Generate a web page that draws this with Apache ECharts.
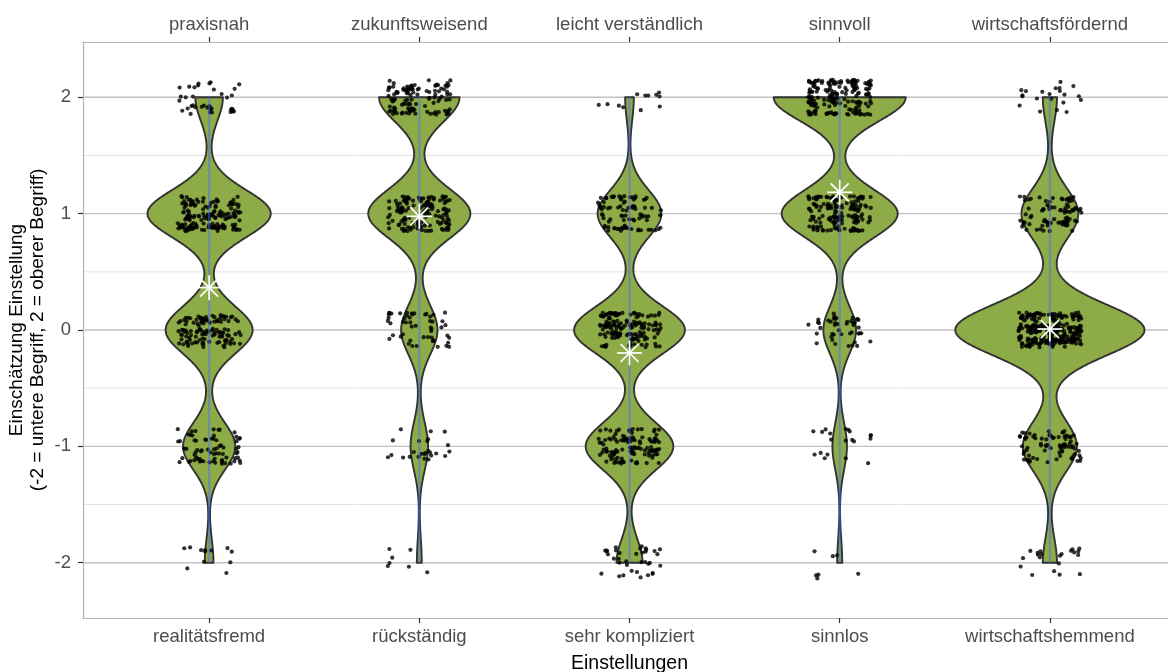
<!DOCTYPE html>
<html>
<head>
<meta charset="utf-8">
<script src="https://cdn.jsdelivr.net/npm/echarts@6/dist/echarts.min.js"></script>
<style>
  html, body { margin: 0; padding: 0; background: #ffffff; }
  #chart { width: 1168px; height: 672px; }
</style>
</head>
<body>
<div id="chart"></div>
<script>
// Answer scale: -2 = lower term, 2 = upper term
const levels = [-2, -1, 0, 1, 2];

// Lower term (bottom axis) and upper term (top axis) of each attitude pair
const lowerTerms = ['realitätsfremd', 'rückständig', 'sehr kompliziert', 'sinnlos', 'wirtschaftshemmend'];
const upperTerms = ['praxisnah', 'zukunftsweisend', 'leicht verständlich', 'sinnvoll', 'wirtschaftsfördernd'];

// Number of respondents per answer level (-2, -1, 0, 1, 2)
const countsPraxisnah      = [12, 72, 120, 170, 38];
const countsZukunft        = [7, 25, 52, 146, 115];
const countsVerstaendlich  = [36, 121, 153, 88, 12];
const countsSinnvoll       = [7, 20, 45, 160, 182];
const countsWirtschaft     = [21, 80, 280, 84, 21];

// Axis breaks
const yMajorTicks = [-2, -1, 0, 1, 2];
const yMinorTicks = [-1.5, -0.5, 0.5, 1.5];
const xTicks = [0, 1, 2, 3, 4];

const groups = [countsPraxisnah, countsZukunft, countsVerstaendlich, countsSinnvoll, countsWirtschaft];

// ---- statistics -------------------------------------------------------
function expand(counts) {
  const xs = [];
  counts.forEach((c, k) => { for (let j = 0; j < c; j++) xs.push(levels[k]); });
  return xs; // already sorted
}
function quantile7(sorted, p) {
  const h = (sorted.length - 1) * p;
  const lo = Math.floor(h);
  const hi = Math.min(lo + 1, sorted.length - 1);
  return sorted[lo] + (h - lo) * (sorted[hi] - sorted[lo]);
}
function bwNrd0(xs) {
  const n = xs.length;
  const m = xs.reduce((a, b) => a + b, 0) / n;
  const sd = Math.sqrt(xs.reduce((a, b) => a + (b - m) * (b - m), 0) / (n - 1));
  let lo = Math.min(sd, (quantile7(xs, 0.75) - quantile7(xs, 0.25)) / 1.34);
  if (!lo) lo = sd || Math.abs(xs[0]) || 1;
  return 0.9 * lo * Math.pow(n, -0.2);
}
function mean(xs) { return xs.reduce((a, b) => a + b, 0) / xs.length; }

// count-scaled kernel density over the data range (trimmed violin)
const NGRID = 512;
const profiles = groups.map(counts => {
  const xs = expand(counts);
  const bw = bwNrd0(xs);
  const lo = xs[0], hi = xs[xs.length - 1];
  const pts = [];
  for (let g = 0; g < NGRID; g++) {
    const y = lo + (hi - lo) * g / (NGRID - 1);
    let d = 0;
    counts.forEach((c, k) => {
      const z = (y - levels[k]) / bw;
      d += c * Math.exp(-0.5 * z * z) / (bw * Math.sqrt(2 * Math.PI));
    });
    pts.push([y, d]);
  }
  return { pts, lo, hi, mean: mean(xs) };
});
const densMax = Math.max(...profiles.map(p => Math.max(...p.pts.map(q => q[1]))));
const VIOLIN_HALF = 0.45;

// jittered respondents (uniform jitter of +-0.15 in both directions)
function hash01(a) {
  a = (a ^ 61) ^ (a >>> 16); a = a + (a << 3); a = a ^ (a >>> 4);
  a = Math.imul(a, 0x27d4eb2d); a = a ^ (a >>> 15);
  return (a >>> 0) / 4294967296;
}
const JIT = 0.15;
const points = [];
groups.forEach((counts, i) => {
  counts.forEach((c, k) => {
    for (let j = 0; j < c; j++) {
      const id = i * 100000 + k * 10000 + j;
      const dx = (hash01(id * 2 + 1) * 2 - 1) * JIT;
      const dy = (hash01(id * 2 + 7919) * 2 - 1) * JIT;
      points.push([i + dx, levels[k] + dy]);
    }
  });
});

const gridData = yMajorTicks.map(v => [0, v, 1]).concat(yMinorTicks.map(v => [0, v, 0]));

const TEXT = '#4d4d4d';
const FONT = '"Liberation Sans", Arial, Helvetica, sans-serif';

const chart = echarts.init(document.getElementById('chart'), null, { renderer: 'canvas' });

const xAxisBase = {
  type: 'value', min: -0.6, max: 4.6,
  axisLine: { show: true, onZero: false, lineStyle: { color: '#b3b3b3', width: 1.2 } },
  axisTick: { show: true, customValues: xTicks, length: 5, lineStyle: { color: '#333333', width: 1.2 } },
  splitLine: { show: false }
};

chart.setOption({
  animation: false,
  backgroundColor: '#ffffff',
  textStyle: { fontFamily: FONT },
  grid: { left: 83, top: 42, width: 1093, height: 576, containLabel: false, outerBoundsMode: 'none' },
  xAxis: [
    Object.assign({}, xAxisBase, {
      position: 'bottom',
      axisLabel: { customValues: xTicks, formatter: v => lowerTerms[Math.round(v)], color: TEXT, fontSize: 18.5, margin: 9, fontFamily: FONT },
      name: 'Einstellungen', nameLocation: 'middle', nameGap: 36, nameMoveOverlap: false,
      nameTextStyle: { color: '#000000', fontSize: 19.5, fontFamily: FONT }
    }),
    Object.assign({}, xAxisBase, {
      position: 'top',
      axisLabel: { customValues: xTicks, formatter: v => upperTerms[Math.round(v)], color: TEXT, fontSize: 18.5, margin: 8, fontFamily: FONT }
    })
  ],
  yAxis: {
    type: 'value', min: -2.475, max: 2.475,
    axisLine: { show: true, onZero: false, lineStyle: { color: '#b3b3b3', width: 1.2 } },
    axisTick: { show: true, customValues: yMajorTicks, length: 5, lineStyle: { color: '#333333', width: 1.2 } },
    axisLabel: { customValues: yMajorTicks, color: TEXT, fontSize: 18.5, margin: 12, fontFamily: FONT },
    splitLine: { show: false },
    name: 'Einschätzung Einstellung\n(-2 = untere Begriff, 2 = oberer Begriff)',
    nameLocation: 'middle', nameRotate: 90, nameGap: 35, nameMoveOverlap: false,
    nameTextStyle: { color: '#000000', fontSize: 19, lineHeight: 21, fontFamily: FONT }
  },
  series: [
    {
      // horizontal grid lines
      type: 'custom', z: 0, silent: true,
      data: gridData,
      encode: { x: 0, y: 1 },
      renderItem: (params, api) => {
        const cs = params.coordSys;
        const y = api.coord([0, api.value(1)])[1];
        const major = api.value(2) === 1;
        return {
          type: 'line',
          shape: { x1: cs.x, y1: y, x2: cs.x + cs.width, y2: y },
          style: { stroke: major ? '#c2c2c2' : '#e4e4e4', lineWidth: major ? 1.3 : 1 }
        };
      }
    },
    {
      // violins
      type: 'custom', z: 1, silent: true,
      data: profiles.map((p, i) => [i, 0]),
      encode: { x: 0, y: 1 },
      renderItem: (params, api) => {
        const i = api.value(0);
        const prof = profiles[i].pts;
        const pts = [];
        prof.forEach(([y, d]) => pts.push(api.coord([i + VIOLIN_HALF * d / densMax, y])));
        for (let g = prof.length - 1; g >= 0; g--) {
          const [y, d] = prof[g];
          pts.push(api.coord([i - VIOLIN_HALF * d / densMax, y]));
        }
        return {
          type: 'polygon',
          shape: { points: pts },
          style: { fill: '#8dab46', stroke: '#333333', lineWidth: 1.9, lineJoin: 'round' }
        };
      }
    },
    {
      // respondents
      type: 'scatter', z: 2, silent: true,
      symbol: 'circle', symbolSize: 4.2,
      itemStyle: { color: '#000000' },
      data: points
    },
    {
      // range line through each violin
      type: 'custom', z: 3, silent: true,
      data: profiles.map((p, i) => [i, p.lo, p.hi]),
      encode: { x: 0, y: [1, 2] },
      renderItem: (params, api) => {
        const i = api.value(0);
        const a = api.coord([i, api.value(1)]);
        const b = api.coord([i, api.value(2)]);
        return {
          type: 'line',
          shape: { x1: a[0], y1: a[1], x2: b[0], y2: b[1] },
          style: { stroke: 'rgba(75,110,255,0.5)', lineWidth: 2 }
        };
      }
    },
    {
      // group means
      type: 'custom', z: 4, silent: true,
      data: profiles.map((p, i) => [i, p.mean]),
      encode: { x: 0, y: 1 },
      renderItem: (params, api) => {
        const c = api.coord([api.value(0), api.value(1)]);
        const r = 12.5, q = r * 0.72;
        const st = { stroke: '#ffffff', lineWidth: 1.7 };
        return {
          type: 'group',
          children: [
            { type: 'line', shape: { x1: c[0] - r, y1: c[1], x2: c[0] + r, y2: c[1] }, style: st },
            { type: 'line', shape: { x1: c[0], y1: c[1] - r, x2: c[0], y2: c[1] + r }, style: st },
            { type: 'line', shape: { x1: c[0] - q, y1: c[1] - q, x2: c[0] + q, y2: c[1] + q }, style: st },
            { type: 'line', shape: { x1: c[0] - q, y1: c[1] + q, x2: c[0] + q, y2: c[1] - q }, style: st }
          ]
        };
      }
    }
  ]
});
</script>
</body>
</html>
